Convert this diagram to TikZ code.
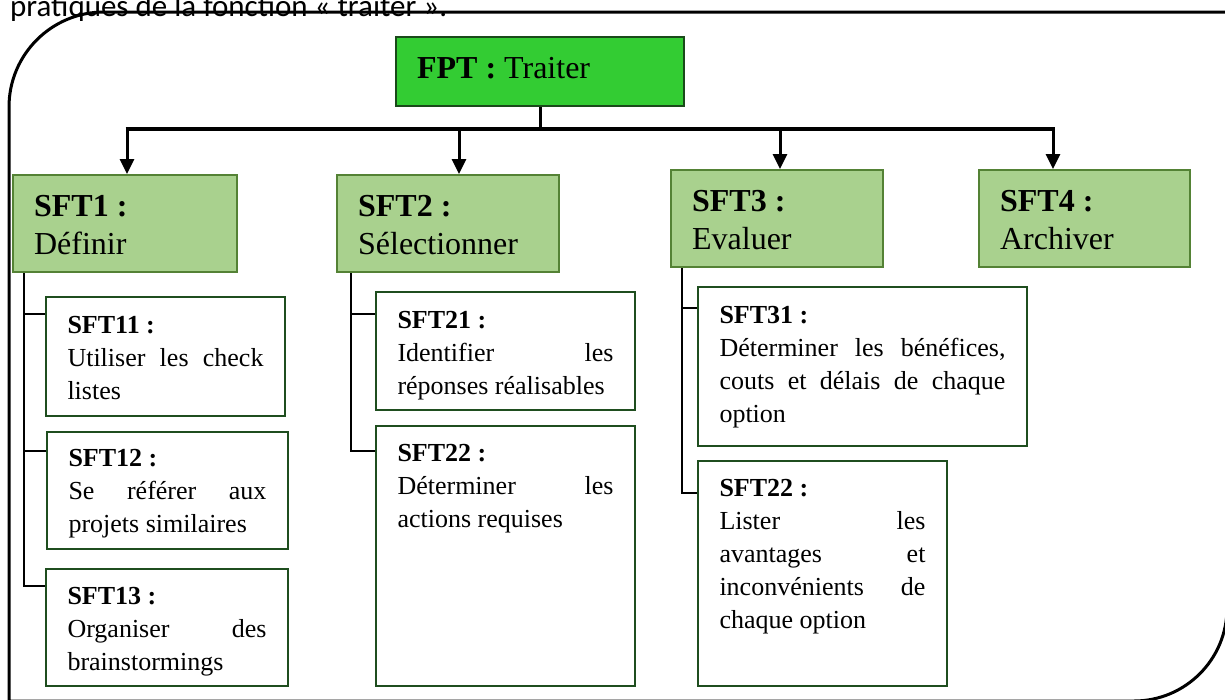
\documentclass[tikz,border=0pt]{standalone}
\usepackage{fontspec}
\setmainfont{Liberation Serif}
\newfontfamily\captionfont{Carlito}
\usetikzlibrary{arrows.meta}

\definecolor{fptfill}{HTML}{33CC33}
\definecolor{fptline}{HTML}{1A4A1A}
\definecolor{sftfill}{HTML}{A9D18E}
\definecolor{sftline}{HTML}{548235}
\definecolor{subline}{HTML}{1F4E1F}

% fixed-size text cell: width, height, first-line height, content
\newcommand{\cell}[4]{\parbox[t][#2][t]{#1}{\rule{0pt}{#3}#4}}
% one fully justified line
\newcommand{\just}[1]{\makebox[\linewidth][s]{#1}}

\begin{document}
\begin{tikzpicture}[x=1pt,y=-1pt,
  top/.style={draw=fptline, fill=fptfill, line width=2.2pt, anchor=north west,
    inner ysep=0pt, inner xsep=21pt, font=\fontsize{32}{38}\selectfont},
  fn/.style={draw=sftline, fill=sftfill, line width=2.2pt, anchor=north west,
    inner ysep=0pt, inner xsep=21pt, font=\fontsize{32}{38}\selectfont},
  sub/.style={draw=subline, fill=white, line width=2pt, anchor=north west,
    inner ysep=0pt, inner xsep=21.5pt, font=\fontsize{26}{33}\selectfont},
  bus/.style={line width=4pt},
  stem/.style={line width=3pt},
  arr/.style={line width=3pt, -{Triangle[length=15pt,width=14pt]}},
  tree/.style={line width=2pt},
  frame/.style={line width=3pt, line join=round}
]
\useasboundingbox (0,0) rectangle (1225,699);
\clip (0,0) rectangle (1225,699);

% caption line of the surrounding text
\node[anchor=base west, inner sep=0pt, font=\captionfont\fontsize{31}{37}\selectfont]
  (caption) at (10,16) {pratiques de la fonction « traiter ».};

% outer frame with two rounded corners (right and bottom sides run past the page)
\draw[frame] (1227,12) -- (104,12) arc[start angle=90,end angle=180,radius=95pt]
  -- (9,701) -- (1134,701) arc[start angle=270,end angle=360,radius=93pt] -- cycle;

% principal function
\node[top] (fpt) at (395,36) {\cell{246pt}{69pt}{41pt}{\textbf{FPT :} Traiter}};

% first-level functions
\node[fn] (s1) at (12,174)  {\cell{182pt}{97pt}{41pt}{\textbf{SFT1 :}\\Définir}};
\node[fn] (s2) at (336,174) {\cell{180pt}{97pt}{41pt}{\textbf{SFT2 :}\\Sélectionner}};
\node[fn] (s3) at (670,169) {\cell{170pt}{97pt}{41pt}{\textbf{SFT3 :}\\Evaluer}};
\node[fn] (s4) at (978,169) {\cell{169pt}{97pt}{41pt}{\textbf{SFT4 :}\\Archiver}};

% second-level functions
\node[sub] (s11) at (45,296) {\cell{196pt}{119pt}{36pt}{\textbf{SFT11 :}\\\just{Utiliser les check}\\listes}};
\node[sub] (s12) at (46,431) {\cell{198pt}{117pt}{34pt}{\textbf{SFT12 :}\\\just{Se référer aux}\\projets similaires}};
\node[sub] (s13) at (45,568) {\cell{199pt}{117pt}{35pt}{\textbf{SFT13 :}\\\just{Organiser des}\\brainstormings}};

\node[sub] (s21) at (375,291) {\cell{216pt}{118pt}{36pt}{\textbf{SFT21 :}\\\just{Identifier les}\\réponses réalisables}};
\node[sub] (s22) at (375,425) {\cell{216pt}{260pt}{35pt}{\textbf{SFT22 :}\\\just{Déterminer les}\\actions requises}};

\node[sub] (s31) at (697,286) {\cell{286pt}{159pt}{36pt}{\textbf{SFT31 :}\\\just{Déterminer les bénéfices,}\\\just{couts et délais de chaque}\\option}};
\node[sub] (s32) at (697,460) {\cell{206pt}{225pt}{35pt}{\textbf{SFT22 :}\\\just{Lister les}\\\just{avantages et}\\\just{inconvénients de}\\chaque option}};

% distribution bus
\coordinate (j1) at (127,129);
\coordinate (j2) at (459,129);
\coordinate (j3) at (780,129);
\coordinate (j4) at (1053,129);
\draw[stem] (fpt.south) -- (fpt.south |- j1);
\draw[bus] ([xshift=-1.5pt]j1) -- ([xshift=1.5pt]j4);
\draw[arr] (j1) -- (j1 |- s1.north);
\draw[arr] (j2) -- (j2 |- s2.north);
\draw[arr] (j3) -- (j3 |- s3.north);
\draw[arr] (j4) -- (j4 |- s4.north);

% breakdown connectors
\draw[tree] ([xshift=12pt]s1.south west) |- ([yshift=-18pt]s11.north west);
\draw[tree] ([xshift=12pt]s1.south west) |- ([yshift=-20pt]s12.north west);
\draw[tree] ([xshift=12pt]s1.south west) |- ([yshift=-18pt]s13.north west);

\draw[tree] ([xshift=15pt]s2.south west) |- ([yshift=-23pt]s21.north west);
\draw[tree] ([xshift=15pt]s2.south west) |- ([yshift=-26pt]s22.north west);

\draw[tree] ([xshift=12pt]s3.south west) |- ([yshift=-22pt]s31.north west);
\draw[tree] ([xshift=12pt]s3.south west) |- ([yshift=-33pt]s32.north west);
\end{tikzpicture}
\end{document}
